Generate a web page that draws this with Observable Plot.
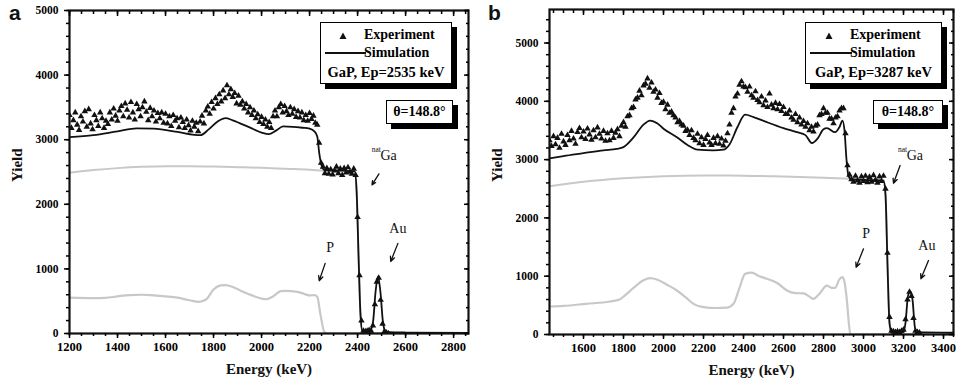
<!DOCTYPE html>
<html>
<head>
<meta charset="utf-8">
<script src="https://cdn.jsdelivr.net/npm/d3@7"></script>
<script src="https://cdn.jsdelivr.net/npm/@observablehq/plot@0.6"></script>
<style>
  html, body { margin: 0; padding: 0; background: #fff; }
  #wrap { position: relative; width: 956px; height: 387px; overflow: hidden; background: #fff; }
  .panel { position: absolute; top: 0; }
  .plabel { position: absolute; font-family: "Liberation Sans", Arial, sans-serif; font-size: 21px; font-weight: bold; line-height: 21px; color: #111; }
  .leg { position: absolute; border: 1.5px solid #000; background: #fff; box-shadow: 5px 5px 0 #000; box-sizing: border-box;
         font-family: "Liberation Serif", "Times New Roman", serif; font-weight: bold; font-size: 14px; color: #000; }
  .leg .row { position: absolute; left: 0; right: 0; height: 18px; line-height: 18px; white-space: nowrap; }
  .leg svg { position: absolute; }
</style>
</head>
<body>
<div id="wrap">
  <div class="plabel" style="left:9px;top:2px">a</div>
  <div class="plabel" style="left:488px;top:2px">b</div>
</div>
<script>
// ---------- Panel a : GaP, Ep = 2535 keV ----------
const expA_start = 1200, expA_step = 8;   // channel energies (keV)
const expA_yield = [
  3380,3180,3300,3420,3230,3150,3360,3280,3440,3200, // 1200
  3470,3250,3160,3380,3300,3210,3420,3330,3180,3290, // 1280
  3240,3420,3310,3480,3370,3290,3450,3520,3360,3560, // 1360
  3460,3340,3580,3420,3310,3550,3470,3360,3500,3590, // 1440
  3430,3300,3490,3360,3450,3280,3410,3330,3420,3260, // 1520
  3400,3250,3360,3210,3380,3290,3330,3190,3340,3270, // 1600
  3180,3310,3220,3140,3290,3200,3260,3130,3280,3370, // 1680
  3250,3450,3510,3400,3580,3480,3640,3550,3700,3590, // 1760
  3760,3640,3840,3700,3780,3660,3720,3560,3680,3540, // 1840
  3590,3480,3550,3420,3500,3380,3450,3330,3390,3270, // 1920
  3350,3240,3310,3200,3270,3180,3360,3450,3360,3500, // 2000
  3550,3420,3520,3440,3380,3500,3400,3470,3350,3440, // 2080
  3340,3420,3300,3380,3290,3410,3320,3370,3260,3230, // 2160
  2950,2640,2580,2480,2560,2470,2540,2460,2520,2580, // 2240
  2480,2550,2450,2560,2490,2570,2500,2470,2550,2450, // 2320
  1800,900,200,40,30,40,50,40,120,450,               // 2400
  800,860,520,150,30,10,0                            // 2480
];
const simA_energy = [1200,1300,1400,1480,1550,1650,1720,1745,1780,1820,1850,1880,1950,2000,2030,2060,2090,2130,2170,2200,2220,2232,2240,2250,2262,2300,2350,2388,2396,2404,2412,2420,2440,2455,2465,2475,2485,2495,2505,2515,2530,2600,2862];
const simA_yield  = [3040,3070,3130,3175,3170,3120,3075,3070,3160,3290,3335,3300,3190,3110,3085,3140,3205,3200,3185,3170,3130,3050,2800,2600,2530,2525,2520,2510,2200,1200,300,40,40,60,200,650,880,650,200,40,20,15,10];
const gaA_energy = [1200,1300,1400,1500,1600,1700,1800,1900,2000,2100,2200,2260,2300,2388,2396,2404,2412,2420,2440,2862];
const gaA_yield  = [2490,2530,2560,2580,2590,2590,2585,2575,2565,2550,2535,2520,2515,2505,2200,1200,300,30,0,0];
const pA_energy = [1200,1300,1350,1400,1450,1500,1550,1600,1650,1700,1740,1770,1800,1830,1850,1880,1920,1960,2000,2020,2050,2080,2100,2150,2180,2200,2220,2232,2245,2262,2275,2862];
const pA_yield  = [555,548,552,575,595,600,590,575,555,515,490,530,680,745,750,720,650,590,540,530,580,655,660,645,610,590,595,570,300,20,0,0];
const xTicksA = [1200,1400,1600,1800,2000,2200,2400,2600,2800];
const yTicksA = [0,1000,2000,3000,4000,5000];

// ---------- Panel b : GaP, Ep = 3287 keV ----------
const expB_start = 1430, expB_step = 10;
const expB_yield = [
  3330,3230,3400,3260,3370,3200,3440,3310,3250,3420, // 1430
  3330,3490,3360,3270,3470,3540,3380,3480,3350,3530, // 1530
  3430,3340,3500,3380,3550,3440,3360,3490,3320,3450, // 1630
  3330,3490,3370,3460,3520,3400,3580,3640,3560,3740, // 1730
  3760,3880,3900,4030,4060,4180,4100,4270,4300,4390, // 1830
  4230,4320,4160,4200,4060,4140,3970,3990,3860,3940, // 1930
  3800,3820,3760,3720,3640,3660,3600,3580,3490,3510, // 2030
  3420,3500,3370,3330,3440,3280,3380,3250,3350,3420, // 2130
  3290,3250,3370,3280,3400,3270,3360,3240,3320,3450, // 2230
  3600,3800,3880,4080,4130,4280,4340,4250,4240,4160, // 2330
  4250,4100,4060,4170,4020,3980,4080,3930,4010,3900, // 2430
  4130,3940,3880,3970,3860,3950,3830,3900,3780,3780, // 2530
  3840,3720,3680,3780,3640,3720,3600,3660,3560,3620, // 2630
  3500,3560,3480,3580,3600,3760,3780,3880,3800,3800, // 2730
  3700,3700,3620,3720,3740,3840,3880,3880,3450,2900, // 2830
  2740,2660,2620,2720,2640,2600,2710,2630,2720,2610, // 2930
  2700,2620,2730,2650,2600,2710,2630,2720,2500,1400, // 3030
  300,60,50,40,50,40,60,80,260,600,                  // 3130
  730,660,280,60,40,30                               // 3230
];
const simB_energy = [1430,1500,1600,1700,1766,1800,1850,1900,1933,1970,2000,2067,2120,2170,2250,2300,2330,2370,2408,2450,2517,2600,2667,2710,2742,2770,2800,2817,2858,2880,2895,2905,2915,2925,2940,3000,3100,3110,3120,3130,3140,3200,3210,3222,3233,3245,3256,3265,3450];
const simB_yield  = [3020,3060,3110,3160,3185,3215,3380,3600,3670,3620,3530,3384,3250,3170,3160,3170,3260,3560,3770,3730,3642,3540,3470,3420,3285,3360,3520,3540,3470,3560,3670,3500,3000,2720,2660,2650,2640,2400,1200,200,40,45,200,650,740,600,150,40,30];
const gaB_energy = [1430,1600,1800,2000,2200,2400,2600,2800,2950,3000,3100,3110,3120,3130,3140,3450];
const gaB_yield  = [2545,2620,2680,2715,2728,2725,2710,2690,2670,2660,2650,2400,1200,200,0,0];
const pB_energy = [1430,1500,1613,1732,1780,1800,1850,1900,1933,1970,2020,2067,2110,2150,2200,2260,2317,2350,2380,2408,2440,2480,2517,2570,2617,2660,2700,2730,2750,2780,2817,2840,2858,2880,2895,2905,2917,2928,2935,3450];
const pB_yield  = [480,490,526,566,600,650,800,930,966,940,850,755,640,526,470,455,460,526,800,1040,1060,1000,955,880,755,710,705,650,612,700,840,800,800,950,985,900,583,150,0,0];
const xTicksB = [1600,1800,2000,2200,2400,2600,2800,3000,3200,3400];
const yTicksB = [0,1000,2000,3000,4000,5000];

// annotation labels [energy, yield, text] and arrows [E1, Y1, E2, Y2]
const notesA = [[2286,1324,"P"],[2568,1619,"Au"]];
const gaLabelA = [2495,2755];
const arrowsA = [[2489,2471,2460,2300],[2265,1085,2240,817],[2568,1395,2538,1116]];
const notesB = [[3013,1738,"P"],[3317,1527,"Au"]];
const gaLabelB = [3216,3070];
const arrowsB = [[3183,2899,3150,2595],[3000,1470,2963,1154],[3325,1269,3287,955]];

const legendA = {exp: "Experiment", sim: "Simulation", sample: "GaP, Ep=2535 keV", angle: "θ=148.8°"};
const legendB = {exp: "Experiment", sim: "Simulation", sample: "GaP, Ep=3287 keV", angle: "θ=148.8°"};

// ---------- helpers ----------
const pairs = (E, Y) => E.map((e, i) => ({E: e, Y: Y[i]}));
const grid = (start, step, Y) => Y.map((y, i) => ({E: start + i * step, Y: y}));
const minor = (lo, hi, step) => d3.range(Math.ceil(lo / step) * step, hi + 0.001, step);

function panel(o) {
  const serif = "'Liberation Serif', 'Times New Roman', serif";
  const xMinor = minor(o.xDomain[0], o.xDomain[1], 50);
  const yMinor = minor(o.yDomain[0], o.yDomain[1], 200);
  return Plot.plot({
    width: o.width, height: 387,
    marginLeft: o.ml, marginRight: o.mr, marginTop: o.mt, marginBottom: o.mb,
    x: {domain: o.xDomain, label: null},
    y: {domain: o.yDomain, label: null},
    style: {fontFamily: serif, fontSize: "12px", fontWeight: "bold", background: "transparent", color: "black", overflow: "visible"},
    marks: [
      Plot.line(o.ga, {x: "E", y: "Y", stroke: "#c8c8c8", strokeWidth: 2, curve: "monotone-x", clip: true}),
      Plot.line(o.p, {x: "E", y: "Y", stroke: "#c8c8c8", strokeWidth: 2.2, curve: "monotone-x", clip: true}),
      Plot.line(o.sim, {x: "E", y: "Y", stroke: "#111", strokeWidth: 1.8, curve: "monotone-x", clip: true}),
      Plot.dot(o.exp, {x: "E", y: "Y", symbol: "triangle", r: 2.4, fill: "#111", stroke: "none", clip: true}),
      Plot.frame({stroke: "#111", strokeWidth: 2.2}),
      Plot.axisX({ticks: o.xTicks, tickSize: 5, tickPadding: 4, strokeWidth: 1.5, tickFormat: d => String(d), fontSize: 12.5, label: null}),
      Plot.axisX({ticks: xMinor, tickSize: 3, strokeWidth: 1.5, fill: "none", label: null}),
      Plot.axisX({anchor: "top", ticks: o.xTicks, tickSize: 5, dy: 5, strokeWidth: 1.5, fill: "none", label: null}),
      Plot.axisX({anchor: "top", ticks: xMinor, tickSize: 3, dy: 3, strokeWidth: 1.5, fill: "none", label: null}),
      Plot.axisY({ticks: o.yTicks, tickSize: 5, tickPadding: 6, strokeWidth: 1.5, tickFormat: d => String(d), fontSize: 11.5, label: null}),
      Plot.axisY({ticks: yMinor, tickSize: 3, strokeWidth: 1.5, fill: "none", label: null}),
      Plot.axisY({anchor: "right", ticks: o.yTicks, tickSize: 5, dx: -5, strokeWidth: 1.5, fill: "none", label: null}),
      Plot.axisY({anchor: "right", ticks: yMinor, tickSize: 3, dx: -3, strokeWidth: 1.5, fill: "none", label: null}),
      Plot.text(["Energy (keV)"], {text: d => d, frameAnchor: "bottom", dy: 40, fontSize: 15, fontWeight: "bold", fill: "#111"}),
      Plot.text(["Yield"], {text: d => d, frameAnchor: "left", dx: o.yLabelDx, dy: 10, rotate: -90, fontSize: 15, fontWeight: "bold", fill: "#111"}),
      Plot.arrow(o.arrows, {x1: d => d[0], y1: d => d[1], x2: d => d[2], y2: d => d[3], stroke: "#111", strokeWidth: 1.3, headLength: 6, headAngle: 50}),
      Plot.text(o.notes, {x: d => d[0], y: d => d[1], text: d => d[2], fontSize: 14, fontWeight: "normal", fill: "#111"}),
      Plot.text([o.gaLabel], {x: d => d[0], y: d => d[1], text: () => "Ga", textAnchor: "start", fontSize: 14, fontWeight: "normal", fill: "#111"}),
      Plot.text([o.gaLabel], {x: d => d[0], y: d => d[1], text: () => "nat", textAnchor: "end", dy: -6, dx: 0.5, fontSize: 7.5, fontWeight: "normal", fill: "#111"})
    ]
  });
}

function legend(wrap, L, box, theta) {
  const d = document.createElement("div");
  d.className = "leg";
  Object.assign(d.style, {left: box[0] + "px", top: box[1] + "px", width: box[2] + "px", height: box[3] + "px"});
  d.innerHTML =
    `<svg style="left:${box[4] - 5}px;top:8px" width="10" height="10"><path d="M5,1.5 L8.5,8 L1.5,8 Z" fill="#111"/></svg>` +
    `<div class="row" style="top:3px;padding-left:${box[5]}px">${L.exp}</div>` +
    `<svg style="left:3px;top:20px" width="${box[5]}" height="20"><line x1="1" y1="10" x2="${box[5] - 1}" y2="10" stroke="#111" stroke-width="2"/></svg>` +
    `<div class="row" style="top:21px;padding-left:${box[5]}px">${L.sim}</div>` +
    `<div class="row" style="top:40px;text-align:center;font-size:14.5px">${L.sample}</div>`;
  wrap.appendChild(d);
  const t = document.createElement("div");
  t.className = "leg";
  Object.assign(t.style, {left: theta[0] + "px", top: theta[1] + "px", width: theta[2] + "px", height: theta[3] + "px",
    textAlign: "center", lineHeight: (theta[3] - 3) + "px"});
  t.textContent = L.angle;
  wrap.appendChild(t);
}

const wrap = document.getElementById("wrap");

const plotA = panel({
  width: 478, ml: 69, mr: 10, mt: 10, mb: 54,
  xDomain: [1200, 2862], yDomain: [0, 5000],
  xTicks: xTicksA, yTicks: yTicksA,
  exp: grid(expA_start, expA_step, expA_yield),
  sim: pairs(simA_energy, simA_yield),
  ga: pairs(gaA_energy, gaA_yield),
  p: pairs(pA_energy, pA_yield),
  notes: notesA, gaLabel: gaLabelA, arrows: arrowsA, yLabelDx: -52
});
plotA.classList.add("panel");
plotA.style.left = "0px";
wrap.appendChild(plotA);

const plotB = panel({
  width: 478, ml: 71, mr: 3, mt: 9, mb: 53,
  xDomain: [1430, 3450], yDomain: [0, 5575],
  xTicks: xTicksB, yTicks: yTicksB,
  exp: grid(expB_start, expB_step, expB_yield),
  sim: pairs(simB_energy, simB_yield),
  ga: pairs(gaB_energy, gaB_yield),
  p: pairs(pB_energy, pB_yield),
  notes: notesB, gaLabel: gaLabelB, arrows: arrowsB, yLabelDx: -52
});
plotB.classList.add("panel");
plotB.style.left = "478px";
wrap.appendChild(plotB);

legend(wrap, legendA, [320, 22, 132, 62, 22, 43], [386, 100, 67, 24]);
legend(wrap, legendB, [805, 22, 137, 62, 23, 44], [873, 100, 70, 24]);
</script>
</body>
</html>
